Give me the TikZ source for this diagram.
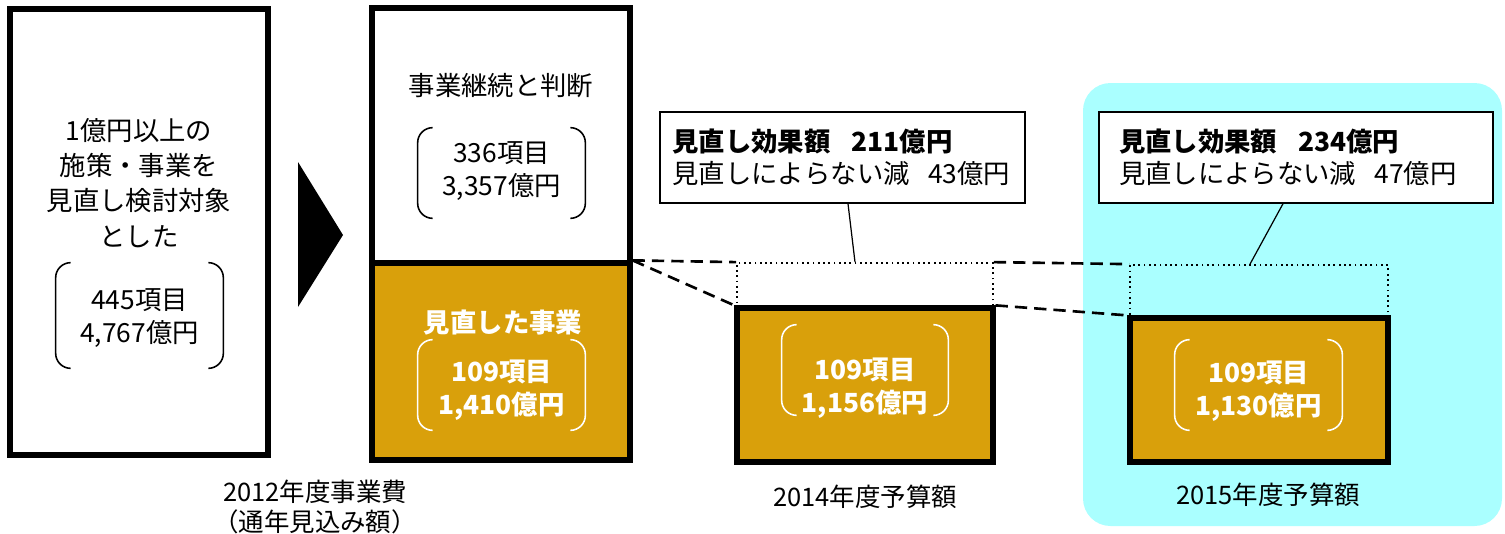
\documentclass[tikz,border=0pt]{standalone}
\usepackage{fontspec}
\setmainfont{Noto Sans CJK JP}
\usetikzlibrary{positioning,calc}
\definecolor{gold}{RGB}{217,160,11}
\definecolor{skyfill}{RGB}{170,255,255}

\begin{document}
\begin{tikzpicture}[x=0.02cm, y=-0.02cm,
  every node/.style={font=\fontsize{15}{19}\selectfont, align=center, inner sep=0pt},
  bar/.style={draw, line width=3pt, minimum width=5.16cm},
  goldbar/.style={bar, fill=gold},
  gapbox/.style={draw, dotted, line width=1pt, minimum width=5.12cm},
  paren/.style={minimum width=3.34cm, minimum height=1.8cm},
  value/.style={text=white, font=\bfseries\fontsize{15}{19}\selectfont},
  callout/.style={draw, line width=0.8pt, fill=white, align=left, minimum height=1.82cm,
    font=\fontsize{15}{18.5}\selectfont},
  link/.style={line width=1.5pt, dash pattern=on 7pt off 4pt},
  caption/.style={font=\fontsize{14.5}{17}\selectfont}]
  \useasboundingbox (0,0) rectangle (1505,534);
  % 2015 highlight
  \fill[skyfill, rounded corners=0.55cm] (1083,83) rectangle (1502,526);
  % 2012 columns
  \node[bar, minimum height=8.92cm] (all) at (139,232) {};
  \node (lead) at (139,183) [font=\fontsize{15}{20}\selectfont]
    {1億円以上の\\施策・事業を\\見直し検討対象\\とした};
  \node[paren, minimum height=2.1cm] (b445) at (139.5,315.5) {};
  \node (v445) at (139.5,318) {445項目\\4,767億円};
  \fill (298,162) -- (343,235) -- (298,307) -- cycle;
  \node[bar, fill=white, minimum height=5.1cm] (cont) at (501,135.5) {};
  \node[goldbar, minimum height=3.94cm] (rev) at (501,361.5) {};
  \node (contlbl) at (501,86) {事業継続と判断};
  \node[paren] (b336) at (501.5,173) {};
  \node (v336) at (501.5,171) {336項目\\3,357億円};
  \node[value] (revlbl) at (503,323) {見直した事業};
  \node[paren] (b1410) at (501.5,385) {};
  \node[value] (v1410) at (501.5,390) {109項目\\1,410億円};
  \node[caption] (lbl12) at (315,507) {2012年度事業費\\（通年見込み額）};
  % 2014
  \node[gapbox, minimum height=0.9cm] (gap14) at (865,285.5) {};
  \node[goldbar, minimum width=5.12cm, minimum height=3.08cm] (box14) at (865,385) {};
  \node[paren, minimum width=3.32cm] (b1156) at (865,370) {};
  \node[value] (v1156) at (865,388) {109項目\\1,156億円};
  \node[caption] (lbl14) at (865,497) {2014年度予算額};
  % 2015
  \node[gapbox, minimum width=5.16cm, minimum height=1.06cm] (gap15) at (1259,291.5) {};
  \node[goldbar, minimum height=2.88cm] (box15) at (1259,390) {};
  \node[paren] (b1130) at (1258.5,385) {};
  \node[value] (v1130) at (1258.5,391) {109項目\\1,130億円};
  \node[caption] (lbl15) at (1268,495) {2015年度予算額};
  % brackets
  \foreach \b/\c in {b445/black, b336/black, b1410/white, b1156/white, b1130/white}{
    \draw[\c, line width=0.9pt, rounded corners=0.3cm]
      ([xshift=0.3cm]\b.north west) -- (\b.north west) -- (\b.south west) -- ([xshift=0.3cm]\b.south west);
    \draw[\c, line width=0.9pt, rounded corners=0.3cm]
      ([xshift=-0.3cm]\b.north east) -- (\b.north east) -- (\b.south east) -- ([xshift=-0.3cm]\b.south east);
  }
  % links
  \draw[link] (rev.north east) -- (gap14.north west);
  \draw[link] (rev.north east) -- (box14.north west);
  \draw[link] (gap14.north east) -- (gap15.north west);
  \draw[link] (box14.north east) -- (box15.north west);
  % callouts
  \node[callout, minimum width=7.3cm, text width=6.8cm, inner xsep=0.25cm] (call14) at (842.5,157.5)
    {\textbf{見直し効果額\hspace{0.8em}211億円}\\見直しによらない減\hspace{0.7em}43億円};
  \node[callout, minimum width=7.88cm, text width=7.08cm, inner xsep=0.4cm] (call15) at (1296,157.5)
    {\textbf{見直し効果額\hspace{0.8em}234億円}\\見直しによらない減\hspace{0.7em}47億円};
  \draw[line width=0.7pt] ([xshift=0.11cm]call14.south) -- ([xshift=-0.2cm]gap14.north);
  \draw[line width=0.7pt] ([xshift=-0.26cm]call15.south) -- ([xshift=-0.18cm]gap15.north);
\end{tikzpicture}
\end{document}
